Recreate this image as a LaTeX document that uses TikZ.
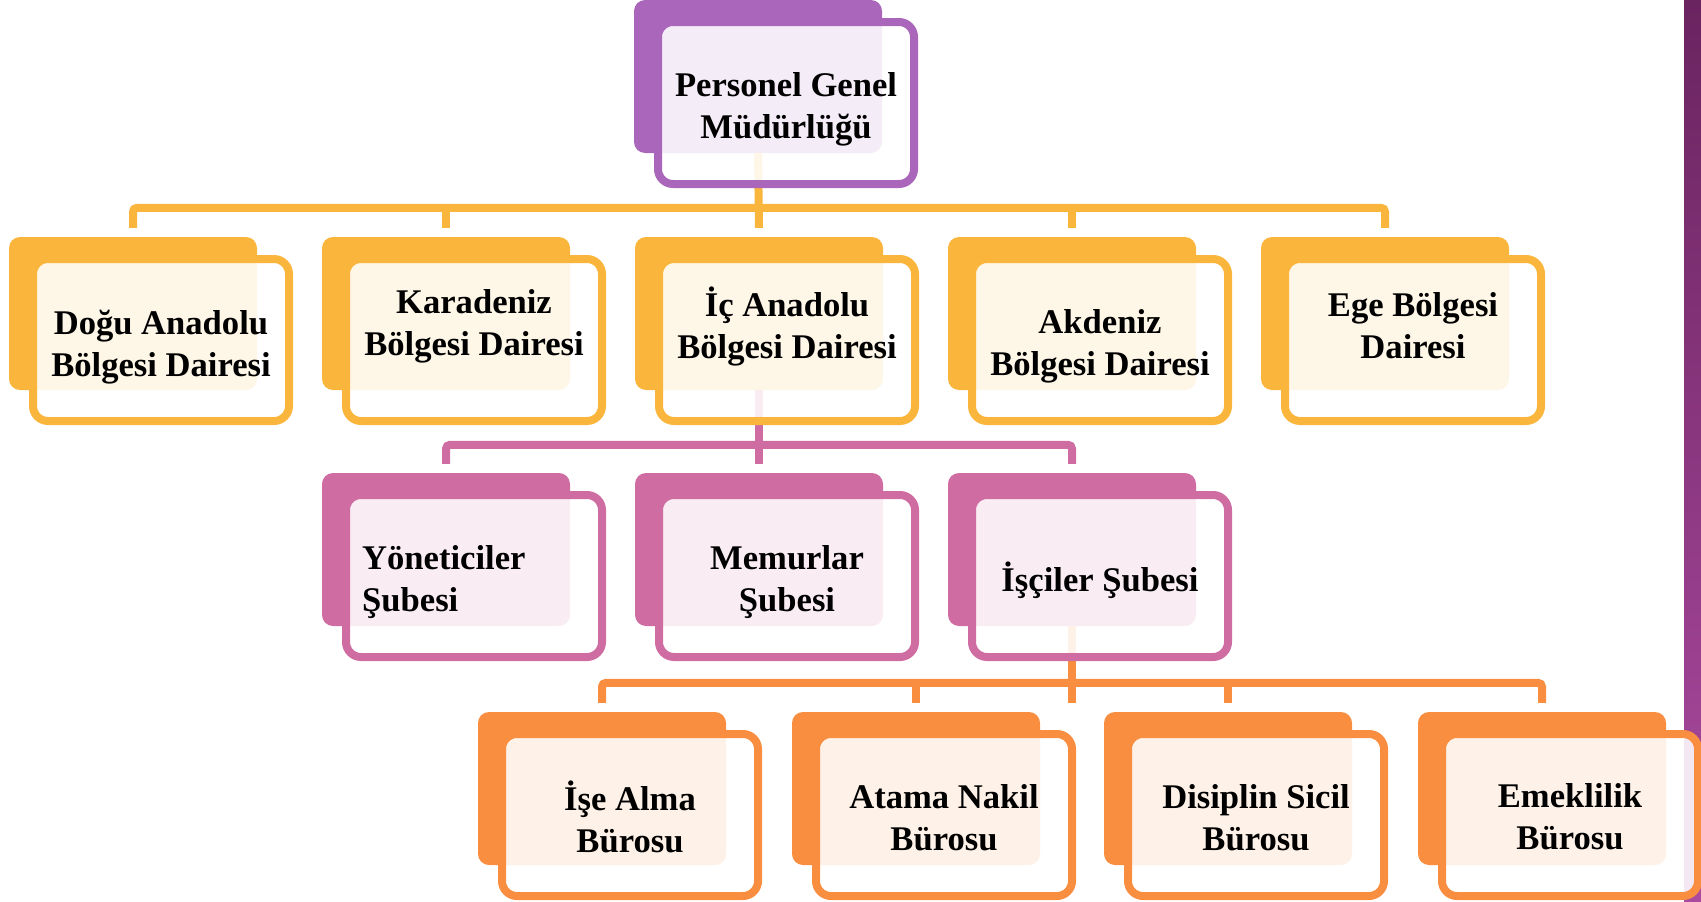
\documentclass[tikz,border=0pt]{standalone}
\usepackage{fontspec}
\setmainfont{Liberation Serif}
\usepackage{tikz}
\usepackage{xcolor}

\definecolor{pgmpurple}{RGB}{169,102,186}
\definecolor{daireyellow}{RGB}{250,182,60}
\definecolor{subepink}{RGB}{207,108,162}
\definecolor{buroorange}{RGB}{250,142,64}
\definecolor{edgetop}{RGB}{106,36,96}
\definecolor{edgebottom}{RGB}{172,74,160}

\begin{document}
\begin{tikzpicture}[
  x=1pt, y=-1pt,
  backbox/.style={fill=#1, rounded corners=11pt, minimum width=248pt, minimum height=153pt, inner sep=0pt},
  frontbox/.style={draw=#1, line width=8pt, fill=white, fill opacity=0.88, rounded corners=15pt, minimum width=256pt, minimum height=162pt, inner sep=0pt},
  conn/.style={draw=#1, line width=8pt, rounded corners=4pt},
  lbl/.style={font=\fontsize{34.6}{42}\selectfont\bfseries, align=center, inner sep=0pt}
  ]
  \useasboundingbox (0,0) rectangle (1701,902);

  % purple edge of the slide
  \shade[top color=edgetop, bottom color=edgebottom] (1684,0) rectangle (1701,902);

  % back boxes
  \node[backbox=pgmpurple] (pgm) at (758,76.5) {};

  \node[backbox=daireyellow] (dogu) at (133,313.5) {};
  \node[backbox=daireyellow] (karadeniz) at (446,313.5) {};
  \node[backbox=daireyellow] (icanadolu) at (759,313.5) {};
  \node[backbox=daireyellow] (akdeniz) at (1072,313.5) {};
  \node[backbox=daireyellow] (ege) at (1385,313.5) {};

  \node[backbox=subepink] (yonetici) at (446,549.5) {};
  \node[backbox=subepink] (memur) at (759,549.5) {};
  \node[backbox=subepink] (isci) at (1072,549.5) {};

  \node[backbox=buroorange] (isealma) at (602,788.5) {};
  \node[backbox=buroorange] (atama) at (916,788.5) {};
  \node[backbox=buroorange] (disiplin) at (1228,788.5) {};
  \node[backbox=buroorange] (emeklilik) at (1542,788.5) {};

  % connectors
  \draw[conn=daireyellow] ([yshift=9pt]dogu.north) -- ([yshift=29pt]dogu.north)
    -- ([yshift=29pt]ege.north) -- ([yshift=9pt]ege.north);
  \draw[conn=daireyellow] (pgm.south) -- ([yshift=9pt]icanadolu.north);
  \foreach \n in {karadeniz, akdeniz}
    \draw[conn=daireyellow] ([yshift=29pt]\n.north) -- ([yshift=9pt]\n.north);

  \draw[conn=subepink] ([yshift=9pt]yonetici.north) -- ([yshift=28pt]yonetici.north)
    -- ([yshift=28pt]isci.north) -- ([yshift=9pt]isci.north);
  \draw[conn=subepink] (icanadolu.south) -- ([yshift=9pt]memur.north);

  \draw[conn=buroorange] ([yshift=9pt]isealma.north) -- ([yshift=29pt]isealma.north)
    -- ([yshift=29pt]emeklilik.north) -- ([yshift=9pt]emeklilik.north);
  \draw[conn=buroorange] (isci.south) -- ([yshift=9pt]isci.south |- atama.north);
  \foreach \n in {atama, disiplin}
    \draw[conn=buroorange] ([yshift=29pt]\n.north) -- ([yshift=9pt]\n.north);

  % front boxes
  \node[frontbox=pgmpurple] (pgm-f) at ([shift={(28,26.5)}]pgm.center) {};

  \node[frontbox=daireyellow] (dogu-f) at ([shift={(28,26.5)}]dogu.center) {};
  \node[frontbox=daireyellow] (karadeniz-f) at ([shift={(28,26.5)}]karadeniz.center) {};
  \node[frontbox=daireyellow] (icanadolu-f) at ([shift={(28,26.5)}]icanadolu.center) {};
  \node[frontbox=daireyellow] (akdeniz-f) at ([shift={(28,26.5)}]akdeniz.center) {};
  \node[frontbox=daireyellow] (ege-f) at ([shift={(28,26.5)}]ege.center) {};

  \node[frontbox=subepink] (yonetici-f) at ([shift={(28,26.5)}]yonetici.center) {};
  \node[frontbox=subepink] (memur-f) at ([shift={(28,26.5)}]memur.center) {};
  \node[frontbox=subepink] (isci-f) at ([shift={(28,26.5)}]isci.center) {};

  \node[frontbox=buroorange] (isealma-f) at ([shift={(28,26.5)}]isealma.center) {};
  \node[frontbox=buroorange] (atama-f) at ([shift={(28,26.5)}]atama.center) {};
  \node[frontbox=buroorange] (disiplin-f) at ([shift={(28,26.5)}]disiplin.center) {};
  \node[frontbox=buroorange] (emeklilik-f) at ([shift={(28,26.5)}]emeklilik.center) {};

  % texts
  \node[lbl] (pgm-t) at ([yshift=-6pt]pgm-f.center) {Personel Genel\\Müdürlüğü};

  \node[lbl] (dogu-t) at ([yshift=-7pt]dogu-f.center) {Doğu Anadolu\\Bölgesi Dairesi};
  \node[lbl] (karadeniz-t) at ([yshift=14pt]karadeniz-f.center) {Karadeniz\\Bölgesi Dairesi};
  \node[lbl] (icanadolu-t) at ([yshift=14pt]icanadolu-f.center) {İç Anadolu\\Bölgesi Dairesi};
  \node[lbl] (akdeniz-t) at ([yshift=-6pt]akdeniz-f.center) {Akdeniz\\Bölgesi Dairesi};
  \node[lbl] (ege-t) at ([yshift=14pt]ege-f.center) {Ege Bölgesi\\Dairesi};

  \node[lbl, align=left, anchor=west] (yonetici-t) at ([xshift=-112pt, yshift=-6pt]yonetici-f.center) {Yöneticiler\\Şubesi};
  \node[lbl] (memur-t) at ([yshift=-6pt]memur-f.center) {Memurlar\\Şubesi};
  \node[lbl] (isci-t) at ([yshift=-4pt]isci-f.center) {İşçiler Şubesi};

  \node[lbl] (isealma-t) at ([yshift=-2pt]isealma-f.center) {İşe Alma\\Bürosu};
  \node[lbl] (atama-t) at ([yshift=-3pt]atama-f.center) {Atama Nakil\\Bürosu};
  \node[lbl] (disiplin-t) at ([yshift=-3pt]disiplin-f.center) {Disiplin Sicil\\Bürosu};
  \node[lbl] (emeklilik-t) at ([yshift=-2pt]emeklilik-f.center) {Emeklilik\\Bürosu};
\end{tikzpicture}
\end{document}
